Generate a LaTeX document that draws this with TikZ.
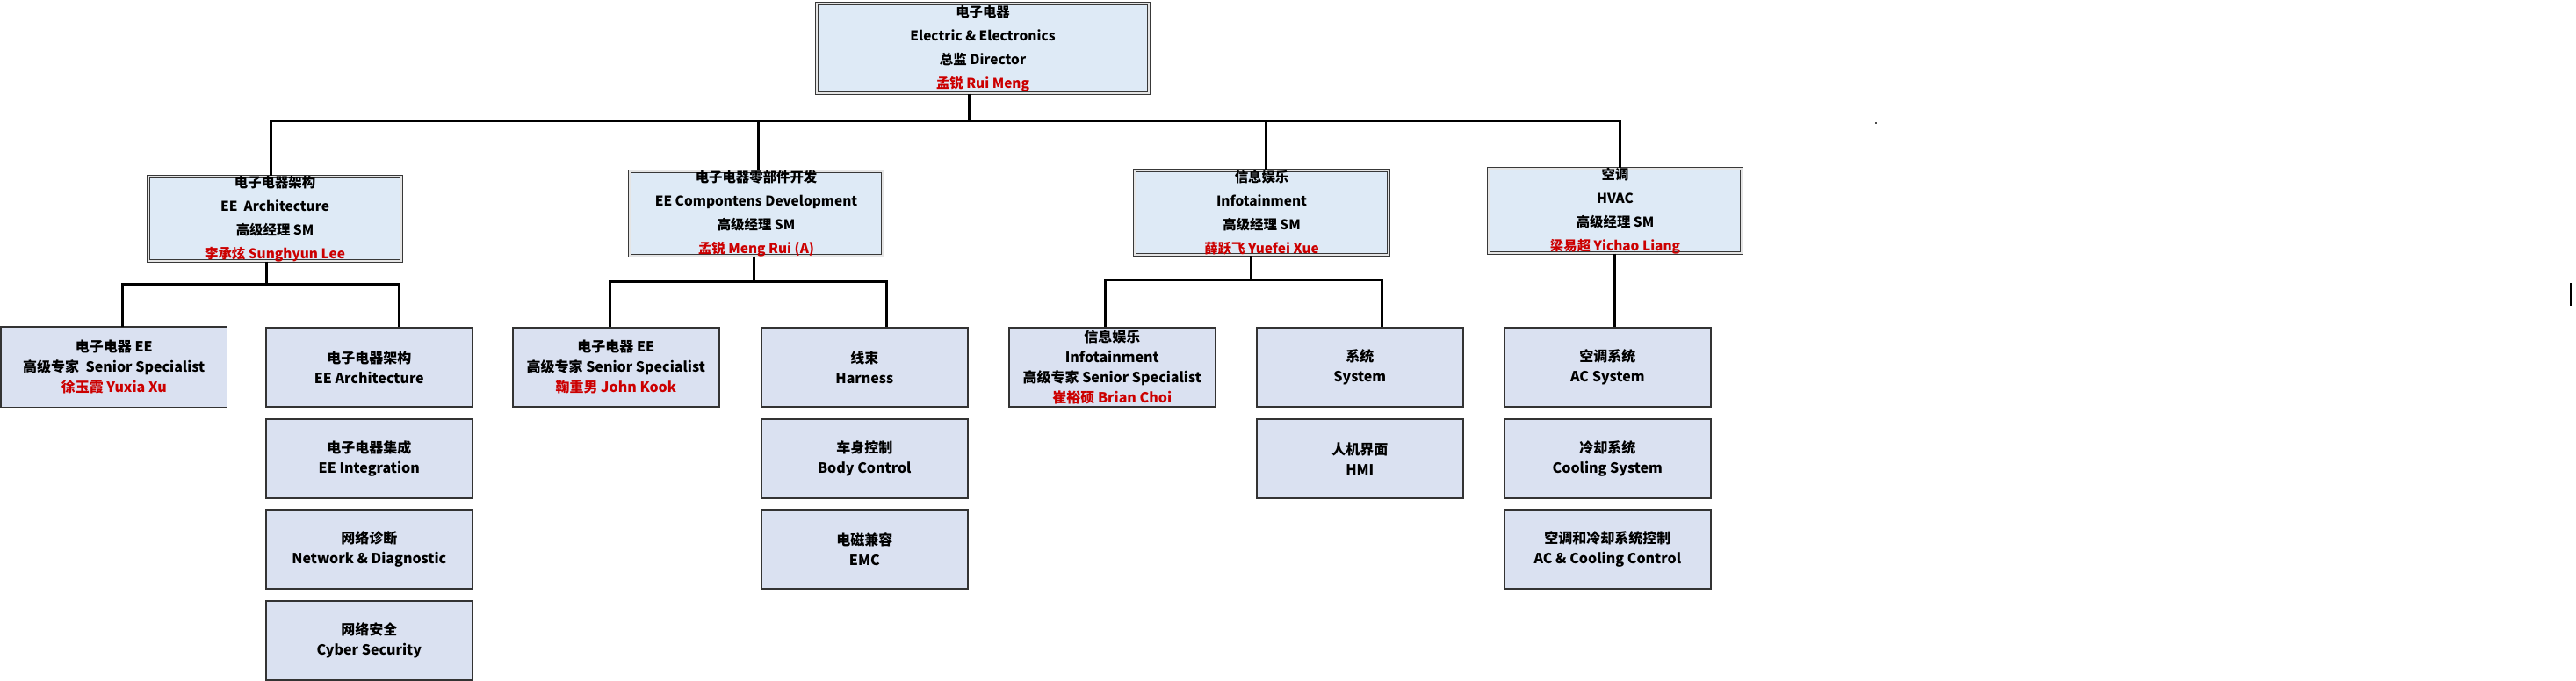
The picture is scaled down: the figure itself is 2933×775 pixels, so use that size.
\documentclass[tikz,border=0pt]{standalone}
\usepackage{fontspec}
\setmainfont{Noto Sans CJK SC}
\definecolor{boxA}{RGB}{222,234,246}
\definecolor{boxB}{RGB}{218,225,241}
\definecolor{namered}{RGB}{204,0,0}
\tikzset{
  mgr/.style={draw=black!78, double=black!10, double distance=1.2pt, line width=1.1pt,
    fill=boxA, inner sep=0pt, anchor=north west, minimum width=288pt, minimum height=96pt},
  leaf/.style={draw=black!80, line width=1.6pt, fill=boxB, inner sep=0pt,
    anchor=north west, minimum width=235pt, minimum height=90pt},
  txt/.style={font=\bfseries\fontsize{15.4}{27}\selectfont, align=center, inner sep=0pt, text=black},
  ltxt/.style={font=\bfseries\fontsize{16}{23}\selectfont, align=center, inner sep=0pt, text=black},
  conn/.style={line width=3pt, black, line join=miter},
}
\newcommand{\nm}[1]{{\color{namered}#1}}
\begin{document}
\begin{tikzpicture}[x=1pt,y=-1pt]
\useasboundingbox (0,0) rectangle (2933,775);
% level 1
\node[mgr, minimum width=378pt, minimum height=102pt,
  label={[txt]center:电子电器\\Electric \& Electronics\\总监 Director\\\nm{孟锐 Rui Meng}}] (top) at (929.5,3.5) {};
% level 2
\node[mgr, label={[txt]center:电子电器架构\\EE\ \ Architecture\\高级经理 SM\\\nm{李承炫 Sunghyun Lee}}] (arch) at (168.5,200.5) {};
\node[mgr, label={[txt]center:电子电器零部件开发\\EE Compontens Development\\高级经理 SM\\\nm{孟锐 Meng Rui (A)}}] (comp) at (716.5,194.5) {};
\node[mgr, minimum width=289pt, label={[txt]center:信息娱乐\\Infotainment\\高级经理 SM\\\nm{薛跃飞 Yuefei Xue}}] (info) at (1291.5,193.5) {};
\node[mgr, label={[txt]center:空调\\HVAC\\高级经理 SM\\\nm{梁易超 Yichao Liang}}] (hvac) at (1694.5,191.5) {};
% level 3
\node[leaf, draw=none, minimum width=256pt, label={[ltxt]center:电子电器 EE\\高级专家\ \ Senior Specialist\\\nm{徐玉霞 Yuxia Xu}}] (yuxia) at (1,372) {};
\draw[draw=black!80, line width=1.6pt] (yuxia.north east) -- (yuxia.north west) -- (yuxia.south west) -- (yuxia.south east);
\node[leaf, label={[ltxt]center:电子电器架构\\EE Architecture}] (eearch) at (302,372) {};
\node[leaf, label={[ltxt]center:电子电器集成\\EE Integration}] (eeint) at (302,476) {};
\node[leaf, label={[ltxt]center:网络诊断\\Network \& Diagnostic}] (netdiag) at (302,579) {};
\node[leaf, label={[ltxt]center:网络安全\\Cyber Security}] (cyber) at (302,683) {};
\node[leaf, label={[ltxt]center:电子电器 EE\\高级专家 Senior Specialist\\\nm{鞠重男 John Kook}}] (john) at (583,372) {};
\node[leaf, label={[ltxt]center:线束\\Harness}] (harness) at (866,372) {};
\node[leaf, label={[ltxt]center:车身控制\\Body Control}] (body) at (866,476) {};
\node[leaf, label={[ltxt]center:电磁兼容\\EMC}] (emc) at (866,579) {};
\node[leaf, label={[ltxt]center:信息娱乐\\Infotainment\\高级专家 Senior Specialist\\\nm{崔裕硕 Brian Choi}}] (brian) at (1148,372) {};
\node[leaf, label={[ltxt]center:系统\\System}] (system) at (1430,372) {};
\node[leaf, label={[ltxt]center:人机界面\\HMI}] (hmi) at (1430,476) {};
\node[leaf, label={[ltxt]center:空调系统\\AC System}] (acsys) at (1712,372) {};
\node[leaf, label={[ltxt]center:冷却系统\\Cooling System}] (cool) at (1712,476) {};
\node[leaf, label={[ltxt]center:空调和冷却系统控制\\AC \& Cooling Control}] (acc) at (1712,579) {};
% connectors level 1 -> 2
\coordinate (j0) at (1103,138);
\coordinate (bL) at (308,138);
\coordinate (bC) at (863,138);
\coordinate (bI) at (1441,138);
\coordinate (bR) at (1844,138);
\draw[conn] (j0 |- top.south) -- (j0);
\draw[conn] (bL |- arch.north) -- (bL) -- (bR) -- (bR |- hvac.north);
\draw[conn] (bC) -- (bC |- comp.north);
\draw[conn] (bI) -- (bI |- info.north);
% arch -> children
\coordinate (a0) at (303,324);
\coordinate (a1) at (139,324);
\coordinate (a2) at (454,324);
\draw[conn] (a0 |- arch.south) -- (a0);
\draw[conn] (a1 |- yuxia.north) -- (a1) -- (a2) -- (a2 |- eearch.north);
% comp -> children
\coordinate (c0) at (858,321);
\coordinate (c1) at (694,321);
\coordinate (c2) at (1009,321);
\draw[conn] (c0 |- comp.south) -- (c0);
\draw[conn] (c1 |- john.north) -- (c1) -- (c2) -- (c2 |- harness.north);
% info -> children
\coordinate (i0) at (1424,319);
\coordinate (i1) at (1258,319);
\coordinate (i2) at (1573,319);
\draw[conn] (i0 |- info.south) -- (i0);
\draw[conn] (i1 |- brian.north) -- (i1) -- (i2) -- (i2 |- system.north);
% hvac -> child
\coordinate (h0) at (1838,300);
\draw[conn] (h0 |- hvac.south) -- (h0 |- acsys.north);
% stray marks
\fill[black!70] (2135,139) rectangle (2137,141);
\fill[black] (2926,322) rectangle (2929,348);
\end{tikzpicture}
\end{document}
